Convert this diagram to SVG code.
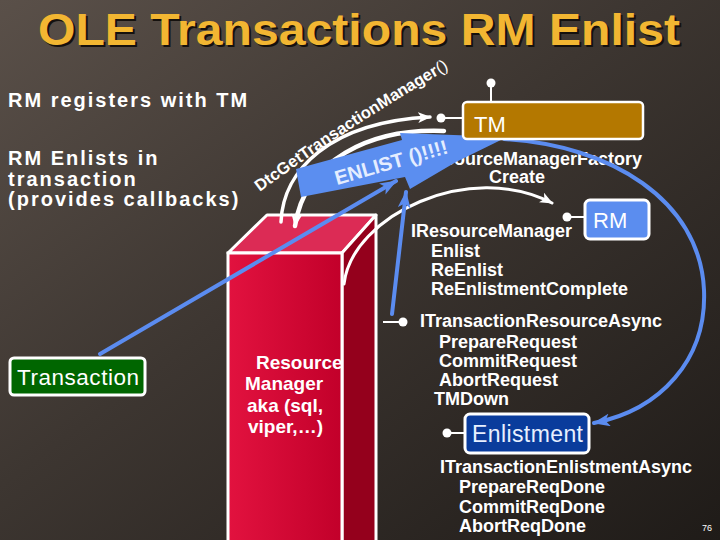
<svg xmlns="http://www.w3.org/2000/svg" width="720" height="540" viewBox="0 0 720 540">
<defs>
<linearGradient id="bg" x1="0" y1="0" x2="1" y2="1">
<stop offset="0" stop-color="#5a5049"/>
<stop offset="0.45" stop-color="#3d3631"/>
<stop offset="1" stop-color="#1f1b18"/>
</linearGradient>
<linearGradient id="front" x1="0" y1="0" x2="1" y2="0">
<stop offset="0" stop-color="#e2123f"/>
<stop offset="1" stop-color="#c2002a"/>
</linearGradient>
<marker id="wh" viewBox="0 0 12 10" refX="11" refY="5" markerWidth="13" markerHeight="11" markerUnits="userSpaceOnUse" orient="auto">
<path d="M0,0 L12,5 L0,10 L3,5 z" fill="#fff"/>
</marker>
<marker id="bh" viewBox="0 0 16 12" refX="15" refY="6" markerWidth="17" markerHeight="13" markerUnits="userSpaceOnUse" orient="auto">
<path d="M0,0 L16,6 L0,12 L4,6 z" fill="#5b8cf0"/>
</marker>
<path id="dtcPath" d="M 260,192 Q 340,132 450,68"/>
</defs>
<style>
.t{font-family:"Liberation Sans",Arial,sans-serif;fill:#fff}
.b{font-weight:bold}
.s18{font-size:18px}
.lbl{font-size:20px;font-weight:bold;letter-spacing:2px}
.w{fill:none;stroke:#fff;stroke-linecap:round}
.bl{fill:none;stroke:#5b8cf0;stroke-width:4;stroke-linecap:round}
.dot{fill:#fff}
.ln{stroke:#fff;stroke-width:2}
.box{stroke:#fff;stroke-width:3}
</style>

<rect x="0" y="0" width="720" height="540" fill="url(#bg)"/>

<g id="title">
<text class="t b" x="40" y="47" font-size="45" textLength="642" lengthAdjust="spacingAndGlyphs" style="fill:#15110e">OLE Transactions RM Enlist</text>
<text class="t b" x="38" y="45" font-size="45" textLength="642" lengthAdjust="spacingAndGlyphs" style="fill:#f2b632">OLE Transactions RM Enlist</text>
</g>

<g id="notes">
<text class="t lbl" x="8" y="107">RM registers with TM</text>
<text class="t lbl" x="8" y="165">RM Enlists in</text>
<text class="t lbl" x="8" y="186">transaction</text>
<text class="t lbl" x="8" y="206">(provides callbacks)</text>
</g>

<g id="factory-text">
<text class="t b s18" x="416" y="165">IResourceManagerFactory</text>
<text class="t b s18" x="489" y="183">Create</text>
</g>

<g id="rm-iface">
<text class="t b s18" x="411" y="237">IResourceManager</text>
<text class="t b s18" x="431" y="257">Enlist</text>
<text class="t b s18" x="431" y="276">ReEnlist</text>
<text class="t b s18" x="431" y="295">ReEnlistmentComplete</text>
</g>

<g id="resource-async">
<text class="t b s18" x="420" y="327">ITransactionResourceAsync</text>
<text class="t b s18" x="439" y="348">PrepareRequest</text>
<text class="t b s18" x="439" y="367">CommitRequest</text>
<text class="t b s18" x="439" y="386">AbortRequest</text>
<text class="t b s18" x="434" y="405">TMDown</text>
</g>

<g id="enlistment-async">
<text class="t b s18" x="440" y="473">ITransactionEnlistmentAsync</text>
<text class="t b s18" x="459" y="493">PrepareReqDone</text>
<text class="t b s18" x="459" y="513">CommitReqDone</text>
<text class="t b s18" x="459" y="532">AbortReqDone</text>
</g>

<g id="resource-manager">
<polygon points="228,253 267,215 376,215 342,253" fill="#dc2b55" class="box" stroke-linejoin="round"/>
<polygon points="342,253 376,215 376,545 342,545" fill="#94001c" class="box" stroke-linejoin="round"/>
<rect x="228" y="253" width="114" height="292" fill="url(#front)" class="box"/>
<text class="t b" font-size="19" x="256" y="369">Resource</text>
<text class="t b" font-size="19" x="245" y="390">Manager</text>
<text class="t b" font-size="19" x="247" y="412">aka (sql,</text>
<text class="t b" font-size="19" x="248" y="433">viper,…)</text>
</g>

<g id="connectors">
<path class="w" stroke-width="3.5" d="M 281,222 C 283,170 330,122 430,117" marker-end="url(#wh)"/>
<path class="w" stroke-width="4.5" d="M 444,131 C 370,128 305,160 295,226" marker-end="url(#wh)"/>
<path class="w" stroke-width="3" d="M 344,284 C 352,215 470,160 552,203" marker-end="url(#wh)"/>
<line class="ln" x1="441" y1="118" x2="463" y2="118"/>
<line class="ln" x1="491" y1="83" x2="491" y2="103"/>
<line class="ln" x1="567" y1="217" x2="585" y2="217"/>
<line class="ln" x1="383" y1="322" x2="403" y2="322"/>
<line class="ln" x1="447" y1="433" x2="465" y2="433"/>
<path class="bl" d="M 100,354 L 396,181" marker-end="url(#bh)"/>
<path class="bl" d="M 392,314 L 406,192" marker-end="url(#bh)"/>
<path class="bl" stroke-width="5" d="M 504,139 C 610,145 700,200 704,290 C 707,360 660,410 594,423" marker-end="url(#bh)"/>
<circle class="dot" cx="441" cy="118" r="4.5"/>
<circle class="dot" cx="491" cy="83" r="4.5"/>
<circle class="dot" cx="567" cy="217" r="4.5"/>
<circle class="dot" cx="403" cy="322" r="4.5"/>
<circle class="dot" cx="447" cy="433" r="4.5"/>
</g>

<g id="enlist-call">
<polygon points="296,169 402,140 400,133 507,137 456,162 410,189 405,177 301,197" fill="#5b8ef0"/>
<text class="t b" font-size="20" transform="translate(337,185) rotate(-16)" style="fill:#e4edff">ENLIST ()!!!!</text>
</g>

<g id="dtc-call">
<text class="t b" font-size="16.5"><textPath href="#dtcPath" textLength="226" lengthAdjust="spacingAndGlyphs">DtcGetTransactionManager<tspan font-weight="normal">()</tspan></textPath></text>
</g>

<g id="tm">
<rect x="463" y="102" width="180" height="37" rx="4" fill="#b47800" stroke="#fff" stroke-width="2.5"/>
<text class="t" font-size="22" x="474" y="132">TM</text>
</g>

<g id="rm">
<rect x="585" y="200" width="64" height="39" rx="5" fill="#5b8def" class="box"/>
<text class="t" font-size="22" x="593" y="228">RM</text>
</g>

<g id="transaction">
<rect x="10" y="358" width="135" height="37" rx="4" fill="#006600" class="box"/>
<text class="t" font-size="22.5" x="17" y="385" textLength="122">Transaction</text>
</g>

<g id="enlistment">
<rect x="465" y="414" width="124" height="39" rx="5" fill="#0a3c9c" class="box"/>
<text class="t" font-size="23" x="472" y="442" textLength="111" style="fill:#e8f0ff">Enlistment</text>
</g>

<text class="t" font-size="9" x="702" y="531">76</text>
</svg>
